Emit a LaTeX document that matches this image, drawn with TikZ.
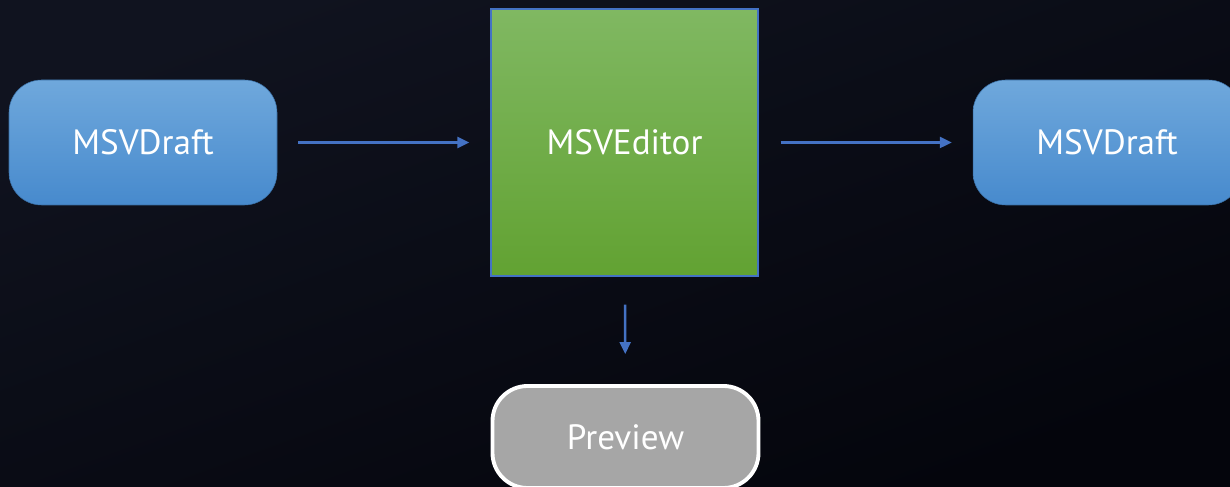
\documentclass[tikz,border=0pt]{standalone}
\usepackage{fontspec}
\setmainfont{PT Sans}
\usetikzlibrary{arrows.meta,positioning,calc}
\definecolor{bgtop}{HTML}{10131F}
\definecolor{bgbot}{HTML}{04050C}
\definecolor{drafttop}{HTML}{6FA8DC}
\definecolor{draftbot}{HTML}{478ACD}
\definecolor{edtop}{HTML}{80B862}
\definecolor{edbot}{HTML}{62A232}
\definecolor{flow}{HTML}{4472C4}
\definecolor{prev}{HTML}{A6A6A6}
\begin{document}
\begin{tikzpicture}
      [draft/.style={rectangle,rounded corners=0.65cm,top color=drafttop,bottom color=draftbot,
         draw=draftbot!80!black,line width=0.3pt,minimum width=5.36cm,minimum height=2.5cm,
         text=white,font=\fontsize{20}{24}\selectfont},
       editor/.style={rectangle,top color=edtop,bottom color=edbot,draw=flow,line width=0.8pt,
         minimum width=5.34cm,minimum height=5.34cm,text=white,font=\fontsize{20}{24}\selectfont},
       preview/.style={rectangle,rounded corners=0.7cm,fill=prev,draw=white,line width=2.2pt,
         minimum width=5.32cm,minimum height=2.04cm,text=white,font=\fontsize{20}{24}\selectfont},
       flowarrow/.style={-{Triangle[length=0.24cm,width=0.22cm]},draw=flow,line width=1.4pt}]
      \shade[top color=bgtop,bottom color=bgbot,shading angle=20] (0,0) rectangle (24.6,-9.74);
      \useasboundingbox (0,0) rectangle (24.6,-9.74);

      \node (D1) at (2.86,-2.85) [draft] {MSVDraft};
      \node (E) at (12.49,-2.85) [editor] {MSVEditor};
      \node (D2) at (22.14,-2.85) [draft] {MSVDraft};
      \node (P) at (12.51,-8.74) [preview] {Preview};

      \draw[flowarrow, shorten <=0.42cm, shorten >=0.42cm] (D1) -- (E);
      \draw[flowarrow, shorten <=0.44cm, shorten >=0.42cm] (E) -- (D2);
      \draw[flowarrow, shorten <=0.56cm, shorten >=0.6cm] (E) -- (P);
      \end{tikzpicture}
\end{document}
